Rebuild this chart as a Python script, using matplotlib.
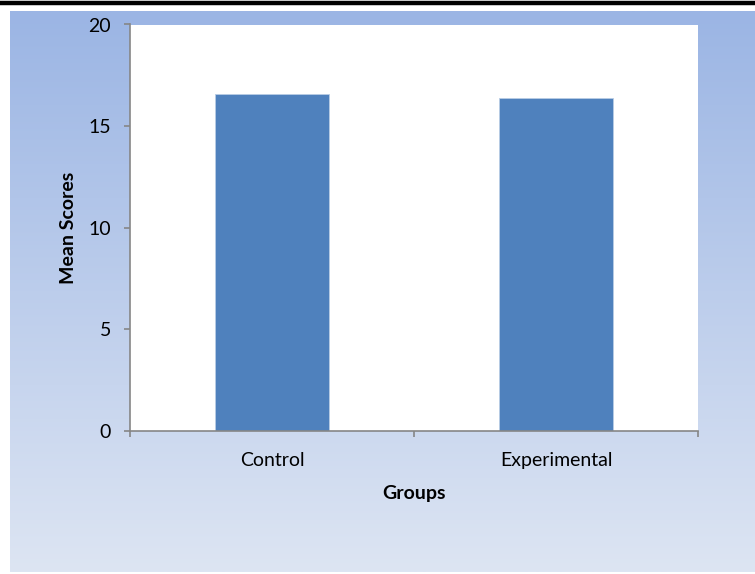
import numpy as np
import matplotlib
matplotlib.use("Agg")
import matplotlib.pyplot as plt
from matplotlib.colors import LinearSegmentedColormap
from matplotlib.lines import Line2D

groups = ["Control", "Experimental"]
mean_scores = [16.6, 16.4]
y_ticks = [0, 5, 10, 15, 20]

plt.rcParams['font.family'] = ['Lato', 'DejaVu Sans']

W, H = 755, 574
fig = plt.figure(figsize=(W / 100, H / 100), dpi=100)
fig.patch.set_facecolor('white')

# gradient background panel
bg = fig.add_axes([10 / W, 2 / H, 1 - 10 / W, 1 - 13 / H], zorder=0)
grad = np.linspace(0, 1, 256).reshape(-1, 1)
cmap = LinearSegmentedColormap.from_list("bg", ["#9bb5e4", "#dde5f3"])
bg.imshow(grad, aspect='auto', cmap=cmap, extent=[0, 1, 0, 1], origin='upper')
bg.axis('off')

# black rule at the very top
fig.add_artist(Line2D([0, 1], [1 - 3 / H, 1 - 3 / H], color='black', lw=3.2,
                      transform=fig.transFigure))

ax = fig.add_axes([130 / W, 1 - 431 / H, (698 - 130) / W, (431 - 24.5) / H], zorder=1)
ax.set_facecolor('white')

x = np.arange(len(groups))
ax.bar(x, mean_scores, width=0.4, color='#4f81bd', edgecolor='#b9cde5', linewidth=0.6)

ax.set_xlim(-0.5, len(groups) - 0.5)
ax.set_ylim(0, 20)
ax.set_yticks(y_ticks)
ax.set_xticks(x)
ax.set_xticklabels(groups)
ax.set_xticks([-0.5, 0.5, 1.5], minor=True)

gray = '#868686'
for s in ['top', 'right']:
    ax.spines[s].set_visible(False)
for s in ['left', 'bottom']:
    ax.spines[s].set_color(gray)
    ax.spines[s].set_linewidth(1.2)

ax.tick_params(axis='y', length=4.5, width=1.2, color=gray, pad=9, labelsize=14)
ax.tick_params(axis='x', which='major', length=0, pad=15, labelsize=14)
ax.tick_params(axis='x', which='minor', length=4.5, width=1.2, color=gray)

ax.set_xlabel('Groups', fontsize=14, fontweight='bold')
ax.xaxis.set_label_coords(0.5, (431 - 493) / (431 - 24.5))
ax.xaxis.label.set_va('center')
ax.set_ylabel('Mean Scores', fontsize=14, fontweight='bold')
ax.yaxis.set_label_coords((68 - 130) / (698 - 130), 0.5)
ax.yaxis.label.set_va('center')

fig.savefig('out.png', dpi=100)
